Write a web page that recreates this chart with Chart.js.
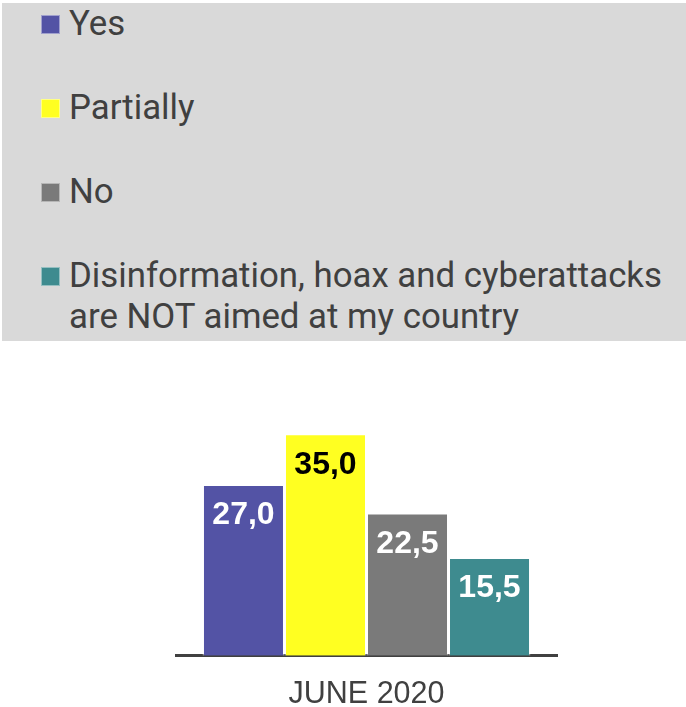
<!DOCTYPE html>
<html>
<head>
<meta charset="utf-8">
<script src="https://cdn.jsdelivr.net/npm/chart.js@4.4.1/dist/chart.umd.min.js"></script>
<style>
  html, body { margin: 0; padding: 0; background: #ffffff; }
  #wrap { position: relative; width: 686px; height: 707px; overflow: hidden; }
  #chart { position: absolute; left: 0; top: 0; }
  #legend {
    position: absolute; left: 2px; top: 3px; width: 684px; height: 338px;
    background: #d9d9d9; z-index: 2;
  }
  #legend ul { list-style: none; margin: 0; padding: 0; }
  #legend li {
    position: relative; padding-left: 67px; margin-bottom: 43px;
    font-family: Roboto, "Liberation Sans", sans-serif; font-size: 34.8px;
    line-height: 41px; color: #404040;
  }
  #legend .box {
    position: absolute; left: 39px; top: 12px; width: 17px; height: 17px;
    border: 1.5px solid rgba(255,255,255,0.45);
  }
  #legend .txt { display: inline-block; width: 610px; }
</style>
</head>
<body>
<div id="wrap">
  <div id="legend"></div>
  <canvas id="chart" width="686" height="734"></canvas>
</div>
<script>
// Survey answers, June 2020 (percent of respondents)
const categories = ['JUNE 2020'];
const seriesNames = [
  'Yes',
  'Partially',
  'No',
  'Disinformation, hoax and cyberattacks are NOT aimed at my country'
];
const yesValues = [27.0];
const partiallyValues = [35.0];
const noValues = [22.5];
const notAimedValues = [15.5];
const seriesColors = ['#5353a5', '#ffff21', '#7a7a7a', '#3e8b8f'];
const labelColors = ['#ffffff', '#000000', '#ffffff', '#ffffff'];

const seriesValues = [yesValues, partiallyValues, noValues, notAimedValues];

// Value labels drawn inside each bar, just under its top edge
const barValueLabels = {
  id: 'barValueLabels',
  afterDatasetsDraw(chart) {
    const ctx = chart.ctx;
    ctx.save();
    ctx.font = 'bold 32px "Liberation Sans", Arial, sans-serif';
    ctx.textAlign = 'center';
    ctx.textBaseline = 'middle';
    chart.data.datasets.forEach((ds, di) => {
      const meta = chart.getDatasetMeta(di);
      meta.data.forEach((bar, i) => {
        const v = ds.data[i];
        ctx.fillStyle = labelColors[di];
        ctx.fillText(v.toFixed(1).replace('.', ','), bar.x, bar.y + 31);
      });
    });
    ctx.restore();
  }
};

// Vertical HTML legend built from the chart's datasets
const htmlLegend = {
  id: 'htmlLegend',
  afterUpdate(chart) {
    const host = document.getElementById('legend');
    host.innerHTML = '';
    const ul = document.createElement('ul');
    chart.data.datasets.forEach((ds) => {
      const li = document.createElement('li');
      const box = document.createElement('span');
      box.className = 'box';
      box.style.background = ds.backgroundColor;
      const txt = document.createElement('span');
      txt.className = 'txt';
      txt.textContent = ds.label;
      li.appendChild(box);
      li.appendChild(txt);
      ul.appendChild(li);
    });
    host.appendChild(ul);
  }
};

new Chart(document.getElementById('chart'), {
  type: 'bar',
  data: {
    labels: categories,
    datasets: seriesNames.map((name, i) => ({
      label: name,
      data: seriesValues[i],
      backgroundColor: seriesColors[i],
      borderColor: 'rgba(255,255,255,0.45)',
      borderWidth: 1.5
    }))
  },
  options: {
    responsive: false,
    animation: false,
    layout: { padding: { left: 176, right: 129, top: 402, bottom: 0 } },
    categoryPercentage: 0.861,
    barPercentage: 1,
    plugins: {
      legend: { display: false },
      tooltip: { enabled: false }
    },
    scales: {
      x: {
        grid: { display: false, drawTicks: false },
        border: { display: true, color: '#404040', width: 3 },
        ticks: {
          color: '#404040',
          padding: 21.6,
          font: { family: '"Liberation Sans", Arial, sans-serif', size: 30.5, lineHeight: 1.15 }
        }
      },
      y: {
        display: false,
        min: 0,
        max: 40
      }
    }
  },
  plugins: [barValueLabels, htmlLegend]
});
</script>
</body>
</html>
